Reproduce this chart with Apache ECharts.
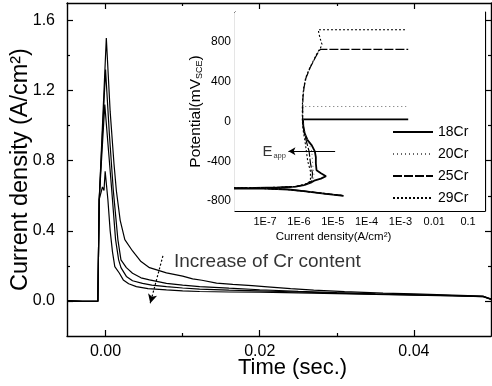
<!DOCTYPE html>
<html><head><meta charset="utf-8">
<script src="https://cdn.jsdelivr.net/npm/echarts@6/dist/echarts.min.js"></script>
<style>html,body{margin:0;padding:0;background:#fff}#c{width:492px;height:386px}</style>
</head><body><div id="c"></div>
<script>
// ---------- Main chart: current transients [time (s), current density (A/cm2)] ----------
const tr18 = [[-0.005,0.0],[-0.003,-0.002],[-0.001,-0.002],[-0.00088,0.0],[-0.00082,0.58],[0.0001,1.50],[0.0006,1.08],[0.0011,0.78],[0.0014,0.63],[0.0019,0.46],[0.0025,0.35],[0.0035,0.285],[0.0046,0.225],[0.0057,0.19],[0.0079,0.16],[0.0100,0.142],[0.0113,0.126],[0.0125,0.118],[0.0144,0.102],[0.0165,0.094],[0.0190,0.087],[0.0210,0.080],[0.0240,0.070],[0.0270,0.062],[0.0310,0.053],[0.0360,0.045],[0.0400,0.040],[0.0450,0.033],[0.0490,0.027],[0.0500,0.012]];
const tr20 = [[-0.005,0.0],[-0.003,-0.002],[-0.001,-0.002],[-0.00088,0.0],[-0.00082,0.58],[0.0000,1.32],[0.0005,0.95],[0.0010,0.634],[0.0016,0.35],[0.0020,0.234],[0.0027,0.19],[0.0035,0.158],[0.0046,0.132],[0.0057,0.12],[0.0079,0.10],[0.0100,0.09],[0.0122,0.082],[0.0160,0.073],[0.0200,0.064],[0.0250,0.055],[0.0300,0.047],[0.0350,0.041],[0.0400,0.036],[0.0450,0.031],[0.0490,0.026],[0.0500,0.010]];
const tr25 = [[-0.005,0.0],[-0.003,-0.002],[-0.001,-0.002],[-0.00088,0.0],[-0.00082,0.58],[-0.0001,1.12],[0.0004,0.85],[0.0008,0.634],[0.0013,0.35],[0.0017,0.234],[0.0020,0.19],[0.0027,0.14],[0.0035,0.115],[0.0048,0.10],[0.0060,0.09],[0.0079,0.082],[0.0100,0.074],[0.0122,0.068],[0.0160,0.062],[0.0200,0.058],[0.0250,0.051],[0.0300,0.045],[0.0350,0.039],[0.0400,0.034],[0.0450,0.030],[0.0490,0.025],[0.0500,0.010]];
const tr29 = [[-0.005,0.0],[-0.003,-0.002],[-0.001,-0.002],[-0.00088,0.0],[-0.00082,0.58],[-0.0004,0.65],[-0.0002,0.63],[-0.00005,0.74],[0.0003,0.58],[0.0006,0.40],[0.0009,0.28],[0.0012,0.196],[0.0018,0.158],[0.0023,0.12],[0.0030,0.098],[0.0040,0.082],[0.0055,0.07],[0.0079,0.063],[0.0100,0.058],[0.0122,0.054],[0.0160,0.051],[0.0200,0.050],[0.0250,0.046],[0.0300,0.042],[0.0350,0.037],[0.0400,0.033],[0.0450,0.029],[0.0490,0.024],[0.0500,0.008]];

const mainXTicks = [0, 0.02, 0.04];
const mainXMinor = [0.01, 0.03];
const mainYTicks = [0, 0.4, 0.8, 1.2, 1.6];
const mainYMinor = [0.2, 0.6, 1.0, 1.4];

// ---------- Inset: polarization curves [log10 current density (A/cm2), potential (mV SCE)] ----------
const pol18 = [[-4.68,-748],[-5.2,-728],[-5.8,-702],[-6.3,-684],[-7.0,-675],[-9.0,-672],[-7.3,-668],[-6.6,-664],[-6.1,-656],[-5.85,-640],[-5.65,-615],[-5.55,-595],[-5.35,-575],[-5.2,-550],[-5.35,-520],[-5.48,-490],[-5.5,-420],[-5.5,-360],[-5.53,-300],[-5.62,-240],[-5.74,-190],[-5.83,-120],[-5.87,-50],[-5.88,20],[-2.77,20]];
const pol20 = [[-4.72,-744],[-5.3,-722],[-5.9,-699],[-6.4,-683],[-7.1,-674],[-9.0,-671],[-7.2,-667],[-6.5,-662],[-6.0,-652],[-5.75,-630],[-5.6,-600],[-5.55,-550],[-5.58,-480],[-5.6,-400],[-5.62,-300],[-5.72,-210],[-5.82,-120],[-5.87,-40],[-5.88,60],[-5.88,150],[-2.83,150]];
const pol25 = [[-4.70,-746],[-5.25,-725],[-5.85,-700],[-6.35,-683],[-7.05,-674],[-9.0,-671],[-7.25,-667],[-6.55,-663],[-6.05,-654],[-5.8,-632],[-5.62,-600],[-5.6,-520],[-5.66,-420],[-5.7,-300],[-5.78,-200],[-5.85,-100],[-5.89,0],[-5.89,140],[-5.88,240],[-5.85,340],[-5.79,440],[-5.67,540],[-5.52,640],[-5.42,700],[-5.37,725],[-2.77,725]];
const pol29 = [[-4.74,-742],[-5.35,-720],[-5.95,-698],[-6.45,-682],[-7.15,-673],[-9.0,-670],[-7.3,-666],[-6.6,-662],[-6.1,-653],[-5.82,-632],[-5.66,-600],[-5.66,-500],[-5.74,-400],[-5.78,-300],[-5.82,-200],[-5.87,-100],[-5.9,0],[-5.9,140],[-5.89,240],[-5.86,340],[-5.8,440],[-5.68,540],[-5.53,640],[-5.44,700],[-5.36,740],[-5.32,776],[-5.36,820],[-5.4,870],[-5.43,921],[-2.83,921]];

const insetXTicks = [-7, -6, -5, -4, -3, -2, -1];
const insetXLabels = ['1E-7', '1E-6', '1E-5', '1E-4', '1E-3', '0.01', '0.1'];
const insetYTicks = [-800, -400, 0, 400, 800];
const insetYMinor = [-600, -200, 200, 600, 1000];

// annotations (data coordinates)
const crNote = [0.00887, 0.221];
const crArrow = [[0.00744, 0.257], [0.0058, -0.013]];
const eappNote = [-7.08, -305];
const eappArrow = [[-4.93, -300], [-6.31, -300]];

const FONT = 'Liberation Sans, Arial, sans-serif';
const blk = '#000';

function axisBase(extra) {
  return Object.assign({
    type: 'value', splitLine: {show: false}, nameMoveOverlap: false,
    axisLine: {show: true, onZero: false, lineStyle: {color: blk, width: 1.4}},
    axisTick: {show: true, inside: true, length: 6, lineStyle: {color: blk, width: 1.2}},
    axisLabel: {show: false}
  }, extra);
}
function minorAxis(extra) {
  return Object.assign({
    type: 'value', splitLine: {show: false},
    axisLine: {show: false, onZero: false},
    axisLabel: {show: false}
  }, extra);
}

const chart = echarts.init(document.getElementById('c'), null, {renderer: 'canvas'});

const mainLine = (name, data) => ({
  name, type: 'line', data, xAxisIndex: 0, yAxisIndex: 0, symbol: 'none',
  lineStyle: {color: blk, width: 1.2}, animation: false, z: 3
});
const insetLine = (name, data, style) => ({
  name, type: 'line', data, xAxisIndex: 4, yAxisIndex: 4, symbol: 'none',
  lineStyle: Object.assign({color: blk, width: 1.2}, style), itemStyle: {color: style.color || blk},
  animation: false, z: 5, clip: true
});
const gridBox = (extra) => Object.assign({outerBoundsMode: 'none', containLabel: false}, extra);

chart.setOption({
  animation: false,
  textStyle: {fontFamily: FONT, color: blk},
  grid: [
    gridBox({left: 67, top: 3, right: 1, bottom: 50}),
    gridBox({left: 67, top: 3, right: 1, bottom: 50}),
    gridBox({left: 235, top: 12, right: 7, bottom: 175, show: true, backgroundColor: '#fff', borderWidth: 0, z: 2}),
    gridBox({left: 235, top: 12, right: 7, bottom: 175})
  ],
  legend: {
    orient: 'vertical', left: 392, top: 125, itemWidth: 40, itemHeight: 14, itemGap: 8, padding: 0,
    data: ['18Cr', '20Cr', '25Cr', '29Cr'],
    itemStyle: {opacity: 0},
    textStyle: {fontSize: 14, color: blk, fontFamily: FONT}
  },
  xAxis: [
    axisBase({gridIndex: 0, position: 'bottom', min: -0.005, max: 0.05,
      axisTick: {show: true, inside: true, length: 6, customValues: mainXTicks, lineStyle: {color: blk, width: 1.2}},
      axisLabel: {show: true, customValues: mainXTicks, formatter: v => v.toFixed(2), fontSize: 16, color: blk, margin: 8, fontFamily: FONT},
      name: 'Time (sec.)', nameLocation: 'middle', nameGap: 21,
      nameTextStyle: {fontSize: 22, color: blk, fontFamily: FONT, padding: [0, 0, 0, 27]}}),
    axisBase({gridIndex: 0, position: 'top', min: -0.005, max: 0.05,
      axisTick: {show: true, inside: true, length: 6, customValues: mainXTicks, lineStyle: {color: blk, width: 1.2}}}),
    minorAxis({gridIndex: 1, position: 'bottom', min: -0.005, max: 0.05,
      axisTick: {show: true, inside: true, length: 3, customValues: mainXMinor, lineStyle: {color: blk, width: 1.2}}}),
    minorAxis({gridIndex: 1, position: 'top', min: -0.005, max: 0.05,
      axisTick: {show: true, inside: true, length: 3, customValues: mainXMinor, lineStyle: {color: blk, width: 1.2}}}),
    axisBase({gridIndex: 2, position: 'bottom', min: -7.89, max: -0.5,
      axisLine: {show: true, onZero: false, lineStyle: {color: blk, width: 1.2}},
      axisTick: {show: true, inside: true, length: 3, customValues: insetXTicks, lineStyle: {color: blk, width: 1}},
      axisLabel: {show: true, customValues: insetXTicks, formatter: v => insetXLabels[insetXTicks.indexOf(Math.round(v))], fontSize: 11, color: blk, margin: 5, fontFamily: FONT},
      name: 'Current density(A/cm²)', nameLocation: 'middle', nameGap: 20,
      nameTextStyle: {fontSize: 11.5, color: blk, fontFamily: FONT, padding: [0, 53, 0, 0]}}),
    axisBase({gridIndex: 2, position: 'top', min: -7.89, max: -0.5,
      axisLine: {show: true, onZero: false, lineStyle: {color: blk, width: 1.2}},
      axisTick: {show: true, inside: true, length: 3, customValues: insetXTicks, lineStyle: {color: blk, width: 1}}}),
    minorAxis({gridIndex: 3, position: 'bottom', min: -7.89, max: -0.5, axisTick: {show: false}})
  ],
  yAxis: [
    axisBase({gridIndex: 0, position: 'left', min: -0.2, max: 1.7,
      axisTick: {show: true, inside: true, length: 6, customValues: mainYTicks, lineStyle: {color: blk, width: 1.2}},
      axisLabel: {show: true, customValues: mainYTicks, formatter: v => v.toFixed(1), fontSize: 16, color: blk, margin: 12, fontFamily: FONT},
      name: 'Current density (A/cm²)', nameLocation: 'middle', nameGap: 34,
      nameTextStyle: {fontSize: 23.5, color: blk, fontFamily: FONT}}),
    axisBase({gridIndex: 0, position: 'right', min: -0.2, max: 1.7,
      axisTick: {show: true, inside: true, length: 6, customValues: mainYTicks, lineStyle: {color: blk, width: 1.2}}}),
    minorAxis({gridIndex: 1, position: 'left', min: -0.2, max: 1.7,
      axisTick: {show: true, inside: true, length: 3, customValues: mainYMinor, lineStyle: {color: blk, width: 1.2}}}),
    minorAxis({gridIndex: 1, position: 'right', min: -0.2, max: 1.7,
      axisTick: {show: true, inside: true, length: 3, customValues: mainYMinor, lineStyle: {color: blk, width: 1.2}}}),
    axisBase({gridIndex: 2, position: 'left', min: -900, max: 1100,
      axisLine: {show: true, onZero: false, lineStyle: {color: blk, width: 1.2}},
      axisTick: {show: true, inside: true, length: 4, customValues: insetYTicks, lineStyle: {color: blk, width: 1}},
      axisLabel: {show: true, customValues: insetYTicks, fontSize: 12, color: blk, margin: 4, fontFamily: FONT},
      name: 'Potential(mV{s|SCE})', nameLocation: 'middle', nameGap: 31,
      nameTextStyle: {fontSize: 15.5, color: blk, fontFamily: FONT,
        rich: {s: {fontSize: 9, color: blk, fontFamily: FONT, padding: [7, 0, 0, 0]}}}}),
    axisBase({gridIndex: 2, position: 'right', min: -900, max: 1100,
      axisLine: {show: true, onZero: false, lineStyle: {color: blk, width: 1.2}},
      axisTick: {show: true, inside: true, length: 4, customValues: insetYTicks, lineStyle: {color: blk, width: 1}}}),
    minorAxis({gridIndex: 3, position: 'left', min: -900, max: 1100,
      axisTick: {show: true, inside: true, length: 2, customValues: insetYMinor, lineStyle: {color: blk, width: 1}}}),
    minorAxis({gridIndex: 3, position: 'right', min: -900, max: 1100,
      axisTick: {show: true, inside: true, length: 2, customValues: insetYMinor, lineStyle: {color: blk, width: 1}}})
  ],
  series: [
    mainLine('t18Cr', tr18),
    mainLine('t20Cr', tr20),
    mainLine('t25Cr', tr25),
    mainLine('t29Cr', tr29),
    {
      name: 'note', type: 'scatter', xAxisIndex: 0, yAxisIndex: 0, data: [crNote], symbolSize: 0,
      label: {show: true, position: 'right', distance: 0, formatter: 'Increase of Cr content', fontSize: 19, color: blk, fontFamily: FONT},
      markLine: {silent: true, symbol: ['none', 'arrow'], symbolSize: [7, 9], label: {show: false},
        lineStyle: {color: blk, type: [2, 2], width: 1.2},
        data: [[{coord: crArrow[0]}, {coord: crArrow[1]}]]},
      z: 4
    },
    insetLine('18Cr', pol18, {width: 1.8}),
    insetLine('20Cr', pol20, {width: 1, type: [1, 3], color: '#666'}),
    insetLine('25Cr', pol25, {width: 1.2, type: [9, 2]}),
    insetLine('29Cr', pol29, {width: 1.1, type: [2, 2]}),
    {
      name: 'eapp', type: 'scatter', xAxisIndex: 4, yAxisIndex: 4, data: [eappNote], symbolSize: 0,
      label: {show: true, position: 'right', distance: 0, formatter: '{e|E}{s|app}', color: blk,
        rich: {e: {fontSize: 15, fontFamily: FONT, color: blk}, s: {fontSize: 7.5, fontFamily: FONT, color: blk, padding: [9, 0, 0, 1]}}},
      markLine: {silent: true, symbol: ['none', 'arrow'], symbolSize: [6, 7], label: {show: false},
        lineStyle: {color: blk, type: 'solid', width: 1},
        data: [[{coord: eappArrow[0]}, {coord: eappArrow[1]}]]},
      z: 6
    }
  ]
});
</script></body></html>
